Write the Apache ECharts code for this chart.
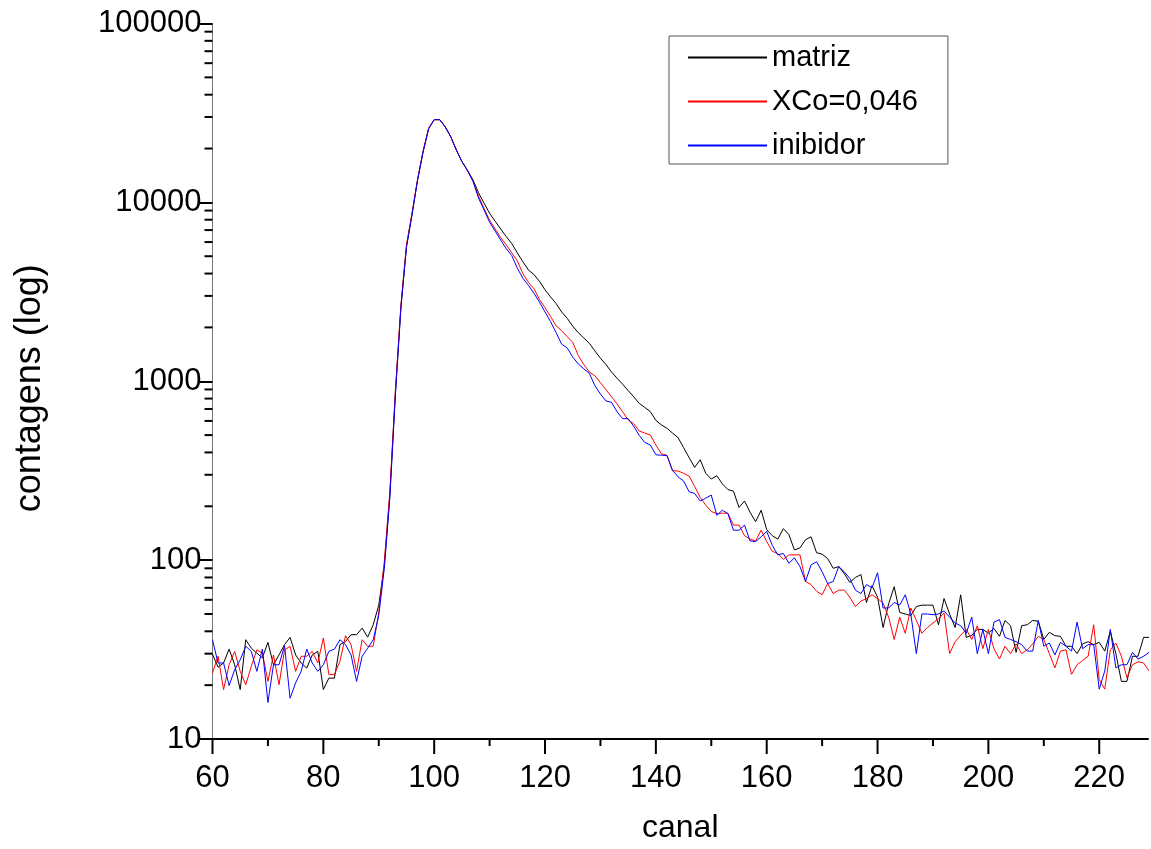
<!DOCTYPE html>
<html><head><meta charset="utf-8">
<script src="https://cdn.jsdelivr.net/npm/echarts@6/dist/echarts.min.js"></script>
<style>html,body{margin:0;padding:0;background:#fff}#c{width:1151px;height:849px}</style>
</head><body><div id="c"></div>
<script>
// channel of the first value in each series (one value per channel)
const xStart = 60;

const seriesNames = ['matriz', 'XCo=0,046', 'inibidor'];
const seriesColors = ['#000000', '#ff0000', '#0000ff'];

const matriz = [
  29.8, 25.2, 26.6, 31.8, 26, 18.9, 35.9, 32.2, 30.2, 28.4,
  34.7, 26, 29.5, 33.7, 37, 29.5, 26.6, 24.9, 29.5, 30.9,
  18.9, 21.9, 21.9, 33.7, 35.1, 38.3, 38.3, 41.7, 37.1, 43.5,
  56, 93, 232, 858, 2620, 5690, 8600, 13370, 19250, 25870,
  29000, 29000, 26400, 23250, 19620, 16920, 15150, 13370, 11310, 9900,
  8690, 7850, 7100, 6440, 5880, 5220, 4660, 4190, 3950, 3620,
  3245, 2960, 2720, 2440, 2250, 2030, 1870, 1745, 1630, 1478,
  1345, 1240, 1125, 1040, 963, 886, 819, 752, 714, 676,
  604, 570, 546, 513, 484, 426, 374, 330, 364, 306,
  284, 296, 267, 248, 243, 197, 214, 185, 164, 190,
  148, 137, 131, 150, 139, 114, 117, 130, 135, 110,
  108, 102, 90, 92, 84, 75, 80, 83, 58, 72,
  62, 42, 57, 71, 51, 50, 49, 55, 56, 56,
  56, 43.5, 61, 50, 42, 64, 37, 38, 41, 41,
  39, 41.5, 37.5, 46, 43, 30.5, 43, 43.5, 46, 45.5,
  36, 39.5, 37.8, 37.5, 33, 33, 30, 34, 35, 33.7,
  34.7, 31, 40, 30, 21, 21, 29, 29, 37, 37
];

const xco = [
  23.4, 29, 18.9, 26, 30.9, 23.9, 20.1, 25.5, 31.5, 30.2,
  21, 29.5, 20.1, 31.5, 33, 23.9, 29, 29, 30.9, 26.6,
  36.7, 22.9, 22.9, 27.2, 37.8, 33.7, 23.9, 35.9, 33, 33,
  51, 98, 242, 886, 2670, 5780, 8690, 13460, 19340, 26050,
  29000, 29000, 26400, 23250, 19620, 16920, 15060, 13190, 10850, 9250,
  7940, 7100, 6350, 5790, 5220, 4710, 4000, 3575, 3290, 2865,
  2580, 2300, 2040, 1918, 1775, 1650, 1393, 1240, 1125, 1073,
  982, 896, 819, 747, 675, 608, 579, 527, 513, 501,
  440, 393, 386, 316, 315, 306, 295, 258, 224, 203,
  187, 182, 183, 183, 157, 157, 137, 131, 128, 147,
  127, 112, 109, 101, 107, 107, 107, 76, 73, 67,
  64, 74, 65, 68, 68, 62, 55, 59, 61, 64,
  61, 57.5, 48, 36, 48, 39, 54, 46, 39, 42,
  44.5, 47, 50.6, 30, 35, 38, 41, 36, 43, 32,
  41, 32, 28, 33, 30, 34, 30, 31.5, 34, 37.5,
  36, 30, 25, 31, 31.5, 23, 26, 27.5, 29, 43.5,
  21.5, 19, 31.5, 34.4, 29, 22, 26, 27, 26.6, 24
];

const inibidor = [
  35.9, 26.6, 26.6, 19.9, 24.4, 27.7, 33, 30.9, 23.9, 31.8,
  16, 26, 26, 33.2, 16.9, 20.6, 23.9, 31.8, 26.6, 23.9,
  26, 30.9, 31.8, 35.9, 33.7, 29.5, 21, 29, 32.2, 35.9,
  49, 90, 223, 838, 2575, 5600, 8500, 13280, 19160, 25780,
  29000, 29000, 26400, 23250, 19620, 16920, 15060, 13100, 10570, 9070,
  7750, 6910, 6160, 5510, 5040, 4290, 3770, 3435, 3105, 2770,
  2440, 2155, 1870, 1612, 1536, 1365, 1250, 1173, 1106, 944,
  848, 776, 762, 675, 618, 618, 560, 498, 455, 440,
  388, 386, 384, 318, 292, 277, 241, 236, 214, 222,
  231, 178, 190, 182, 147, 147, 157, 128, 127, 135,
  145, 121, 107, 109, 96, 103, 92, 76, 94, 98,
  86, 74, 76, 92, 86, 79, 68, 65, 73, 70,
  85, 54, 54, 58, 56, 64, 50, 30, 50, 50,
  49.5, 50, 52, 48, 44.5, 43, 39, 48, 30, 41,
  30, 45, 46.5, 37, 36, 35, 33.7, 31, 31, 46,
  33, 34.4, 29.5, 34.7, 33, 31, 45, 32, 33.7, 33.7,
  19, 24, 41, 25, 26, 26, 30.5, 28, 29, 30.5
];

// axis ticks
const xMajorTickLabels = [60, 80, 100, 120, 140, 160, 180, 200, 220];
const xMinorTicks = [70, 90, 110, 130, 150, 170, 190, 210];
const yMajorTickLabels = [10, 100, 1000, 10000, 100000];
const yMinorTicks = [20, 30, 40, 50, 60, 70, 80, 90,
  200, 300, 400, 500, 600, 700, 800, 900,
  2000, 3000, 4000, 5000, 6000, 7000, 8000, 9000,
  20000, 30000, 40000, 50000, 60000, 70000, 80000, 90000];

const xMin = 60, xMax = 228.8, yMin = 10, yMax = 100000;
const FONT = "'Liberation Sans', Arial, Helvetica, sans-serif";

const toPairs = arr => arr.map((v, i) => [xStart + i, v]);

// tick marks drawn through the axes' own scales (api.coord)
function tickSeries(values, isX, len) {
  return {
    type: 'custom', silent: true, clip: false, z: 5, legendHoverLink: false,
    encode: {x: 0, y: 1},
    data: values.map(v => isX ? [v, yMin] : [xMin, v]),
    renderItem: (params, api) => {
      const p = api.coord([api.value(0), api.value(1)]);
      const shape = isX ? {x1: p[0], y1: p[1], x2: p[0], y2: p[1] + len}
                        : {x1: p[0] - len, y1: p[1], x2: p[0], y2: p[1]};
      return {type: 'line', shape: shape, style: {stroke: '#000', lineWidth: 2}};
    }
  };
}

function lineSeries(i, values) {
  return {
    name: seriesNames[i], type: 'line', data: toPairs(values),
    symbol: 'none', showSymbol: false, z: 2 + i,
    itemStyle: {color: seriesColors[i]},
    lineStyle: {color: seriesColors[i], width: 1}
  };
}

const chart = echarts.init(document.getElementById('c'), null, {renderer: 'canvas'});
chart.setOption({
  animation: false,
  backgroundColor: '#ffffff',
  textStyle: {fontFamily: FONT},
  grid: {left: 212.5, right: 0, top: 23.5, bottom: 103, containLabel: false},
  legend: {
    orient: 'vertical', left: 669, top: 36,
    padding: [7, 30, 4, 19],
    itemGap: 15, itemWidth: 79, itemHeight: 2,
    borderColor: '#555', borderWidth: 1,
    textStyle: {fontSize: 29, color: '#000', fontFamily: FONT},
    data: seriesNames.map((n, i) => ({
      name: n, icon: 'rect',
      itemStyle: {color: seriesColors[i], borderWidth: 0},
      lineStyle: {color: seriesColors[i], width: 1}
    }))
  },
  xAxis: {
    type: 'value', min: xMin, max: xMax, interval: 20,
    name: 'canal', nameLocation: 'middle', nameGap: 73,
    nameTextStyle: {fontSize: 32, color: '#000', fontFamily: FONT},
    axisLine: {show: true, onZero: false, lineStyle: {color: '#000', width: 2}},
    axisTick: {show: false},
    axisLabel: {fontSize: 31, color: '#000', margin: 24, fontFamily: FONT,
      formatter: v => (Math.abs(v - Math.round(v)) < 1e-6 && xMajorTickLabels.indexOf(Math.round(v)) >= 0) ? String(Math.round(v)) : ''},
    splitLine: {show: false}
  },
  yAxis: {
    type: 'log', logBase: 10, min: yMin, max: yMax,
    name: 'contagens (log)', nameLocation: 'middle', nameGap: 164,
    nameTextStyle: {fontSize: 36, color: '#000', fontFamily: FONT, padding: [0, 14, 0, 0]},
    axisLine: {show: true, onZero: false, lineStyle: {color: '#777', width: 1}},
    axisTick: {show: true, length: 13, lineStyle: {color: '#000', width: 2}},
    axisLabel: {fontSize: 31, color: '#000', margin: 11, fontFamily: FONT,
      formatter: v => String(Math.round(v))},
    splitLine: {show: false}
  },
  series: [
    lineSeries(0, matriz),
    lineSeries(1, xco),
    lineSeries(2, inibidor),
    tickSeries(yMinorTicks, false, 8),
    tickSeries(xMajorTickLabels, true, 15),
    tickSeries(xMinorTicks, true, 7)
  ]
});
</script>
</body></html>
